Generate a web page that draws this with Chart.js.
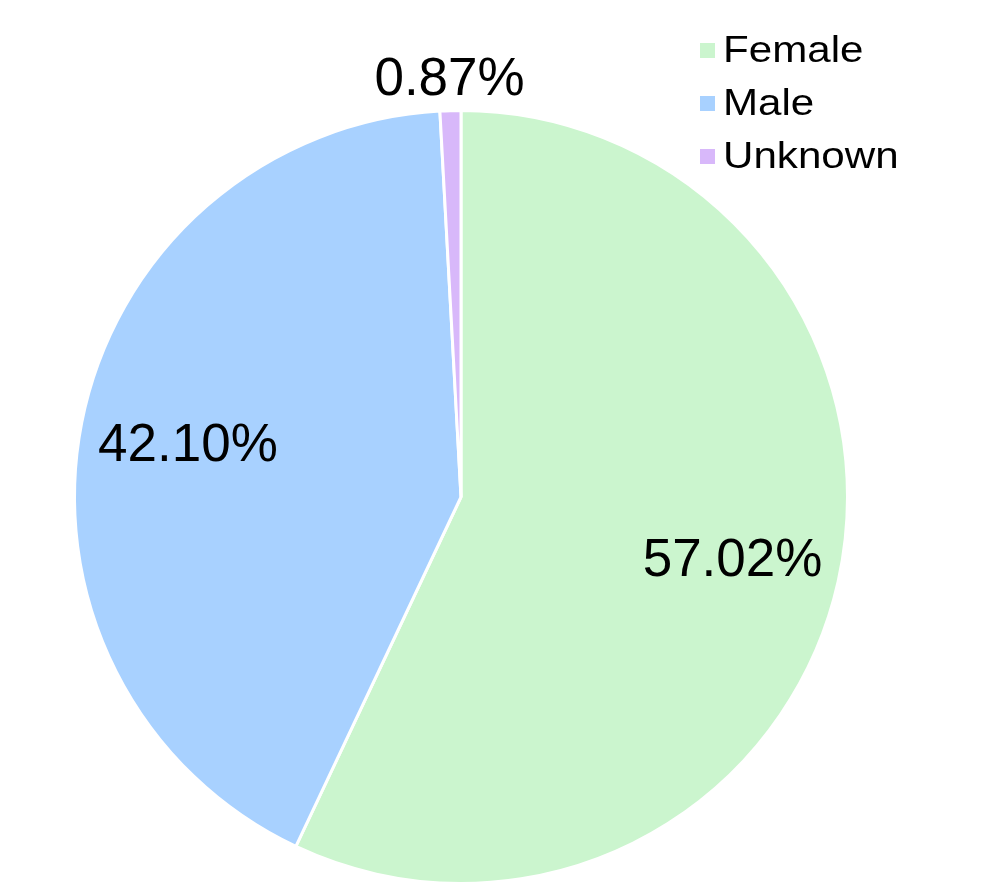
<!DOCTYPE html>
<html>
<head>
<meta charset="utf-8">
<script src="https://cdn.jsdelivr.net/npm/chart.js@4"></script>
<style>
  html, body { margin: 0; padding: 0; background: #fff; }
  canvas { display: block; }
</style>
</head>
<body>
<canvas id="myChart" width="996" height="894"></canvas>
<script>
// values
var labels = ["Female", "Male", "Unknown"];
var shares = [57.02, 42.10, 0.87];
var colors = ["#cbf5ce", "#a8d1ff", "#d8b8fa"];

// percent labels on the slices (small slices go outside)
var pctLabels = {
    id: "pctLabels",
    afterDatasetsDraw: function (chart) {
        var ctx = chart.ctx,
            meta = chart.getDatasetMeta(0);
        ctx.save();
        ctx.fillStyle = "#000";
        ctx.font = "53px 'Liberation Sans', Arial, sans-serif";
        ctx.textAlign = "center";
        ctx.textBaseline = "middle";
        meta.data.forEach(function (arc, i) {
            var p = arc.getProps(["x", "y", "startAngle", "endAngle", "outerRadius"], true),
                mid = (p.startAngle + p.endAngle) / 2,
                k = shares[i] < 5 ? 1.085 : 0.72,
                x = p.x + Math.cos(mid) * p.outerRadius * k,
                y = p.y + Math.sin(mid) * p.outerRadius * k;
            ctx.fillText(shares[i].toFixed(2) + "%", x, y + 3);
        });
        ctx.restore();
    },
};

// legend in the top right corner (text a bit wider than the font)
var cornerLegend = {
    id: "cornerLegend",
    afterDraw: function (chart) {
        var ctx = chart.ctx;
        ctx.save();
        ctx.font = "36px 'Liberation Sans', Arial, sans-serif";
        ctx.textAlign = "left";
        ctx.textBaseline = "alphabetic";
        labels.forEach(function (name, i) {
            var base = 62 + i * 53;
            ctx.fillStyle = colors[i];
            ctx.fillRect(700, base - 19, 15, 15);
            ctx.fillStyle = "#000";
            ctx.save();
            ctx.translate(723, base);
            ctx.scale(1.17, 1);
            ctx.fillText(name, 0, 0);
            ctx.restore();
        });
        ctx.restore();
    },
};

var ctx = document.getElementById("myChart").getContext("2d");
new Chart(ctx, {
    type: "pie",
    data: {
        labels: labels,
        datasets: [
            {
                data: shares,
                backgroundColor: colors,
                borderColor: "#ffffff",
                borderWidth: 3,
            },
        ],
    },
    options: {
        responsive: false,
        animation: false,
        layout: { padding: { top: 109, bottom: 9, left: 73, right: 147 } },
        plugins: {
            legend: { display: false },
            tooltip: { enabled: false },
        },
    },
    plugins: [pctLabels, cornerLegend],
});
</script>
</body>
</html>
